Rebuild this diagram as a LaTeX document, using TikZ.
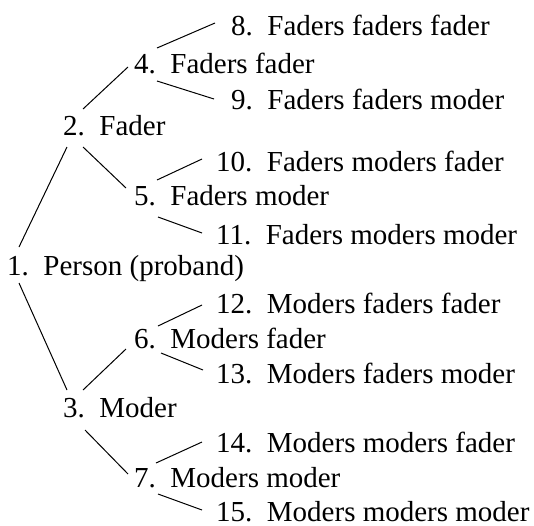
\documentclass[tikz,border=0pt]{standalone}
\usepackage{fontspec}
\setmainfont{Liberation Serif}
\usepackage{tikz}
\usetikzlibrary{calc}
\tikzset{
  person-style/.style = {
    anchor=base west,
    inner sep=0pt,
    font=\fontsize{29}{29}\selectfont
  },
  link-style/.style = {
    draw, line width=1pt
  }
}
\def\createPerson name:#1 num:#2 display:#3 at:#4;{
  \node [person-style] (#1) at (#4) {#2.\enskip #3};
}
\def\createLink from:#1 off:#2 to:#3 off:#4;{
  \draw [link-style] ([shift={(#2)}]#1.base west) -- ([shift={(#4)}]#3.base west);
}
\begin{document}
\begin{tikzpicture}[x=1pt,y=-1pt]
  \useasboundingbox (0,0) rectangle (534,525);
  % generations
  \createPerson name:p1 num:1 display:{Person (proband)} at:{7,275};
  \createPerson name:p2 num:2 display:{Fader} at:{63,135};
  \createPerson name:p3 num:3 display:{Moder} at:{63,417};
  \createPerson name:p4 num:4 display:{Faders fader} at:{134,73};
  \createPerson name:p5 num:5 display:{Faders moder} at:{134,205};
  \createPerson name:p6 num:6 display:{Moders fader} at:{134,348};
  \createPerson name:p7 num:7 display:{Moders moder} at:{134,487};
  \createPerson name:p8 num:8 display:{Faders faders fader} at:{231,35};
  \createPerson name:p9 num:9 display:{Faders faders moder} at:{231,109};
  \createPerson name:p10 num:10 display:{Faders moders fader} at:{216,171};
  \createPerson name:p11 num:11 display:{Faders moders moder} at:{216,244};
  \createPerson name:p12 num:12 display:{Moders faders fader} at:{216,313};
  \createPerson name:p13 num:13 display:{Moders faders moder} at:{216,383};
  \createPerson name:p14 num:14 display:{Moders moders fader} at:{216,452};
  \createPerson name:p15 num:15 display:{Moders moders moder} at:{216,521};

  % links
  \createLink from:p1 off:{12,-28} to:p2 off:{4,12};
  \createLink from:p1 off:{12,8} to:p3 off:{4,-27};

  \createLink from:p2 off:{20,-26} to:p4 off:{-6,-6};
  \createLink from:p2 off:{20,12} to:p5 off:{-8,-17};
  \createLink from:p3 off:{20,-27} to:p6 off:{-8,1};
  \createLink from:p3 off:{22,13} to:p7 off:{-6,-13};

  \createLink from:p4 off:{23,-25} to:p8 off:{-16,-12};
  \createLink from:p4 off:{23,8} to:p9 off:{-17,-10};
  \createLink from:p5 off:{23,-25} to:p10 off:{-14,-12};
  \createLink from:p5 off:{24,12} to:p11 off:{-14,-11};
  \createLink from:p6 off:{24,-22} to:p12 off:{-14,-8};
  \createLink from:p6 off:{27,5} to:p13 off:{-13,-13};
  \createLink from:p7 off:{22,-24} to:p14 off:{-14,-10};
  \createLink from:p7 off:{24,7} to:p15 off:{-14,-11};
\end{tikzpicture}
\end{document}
